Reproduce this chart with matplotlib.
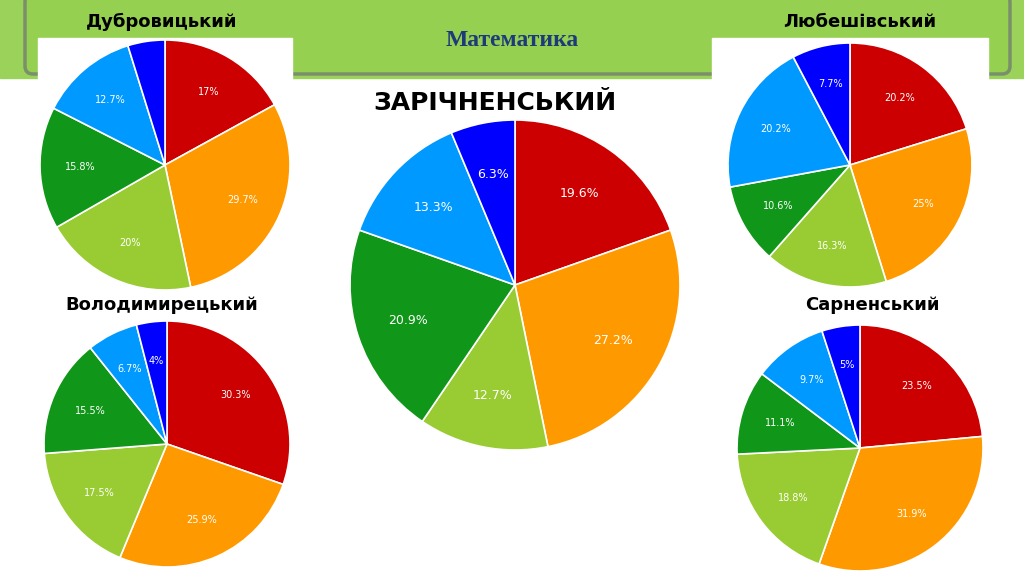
import math
import matplotlib.pyplot as plt
from matplotlib.patches import Rectangle, FancyBboxPatch

colors = ['#cc0000', '#ff9900', '#99cc33', '#109618', '#0099ff', '#0000ff']

dub = [17, 29.7, 20, 15.8, 12.7, 4.8]
dub_lbl = ['17%', '29.7%', '20%', '15.8%', '12.7%', '']
lub = [20.2, 25, 16.3, 10.6, 20.2, 7.7]
zar = [19.6, 27.2, 12.7, 20.9, 13.3, 6.3]
vol = [30.3, 25.9, 17.5, 15.5, 6.7, 4]
sar = [23.5, 31.9, 18.8, 11.1, 9.7, 5]

W, H = 1024, 574
fig = plt.figure(figsize=(W / 100, H / 100), dpi=100)
ax = fig.add_axes([0, 0, 1, 1])
ax.axis('off')

# banner
ax.add_patch(Rectangle((0, 0), W, H, color='white', zorder=0))
ax.add_patch(Rectangle((0, H - 78), W, 78, color='#9bd35a', zorder=0))
ax.add_patch(FancyBboxPatch((25, H - 74), 985, 80, boxstyle='round,pad=0,rounding_size=8',
                            fc='#96d050', ec='#7a8f6a', lw=2.5, zorder=1))
ax.add_patch(Rectangle((38, H - 290), 254, 252, color='white', zorder=2))
ax.add_patch(Rectangle((712, H - 290), 276, 252, color='white', zorder=2))
ax.text(512, H - 40, 'Математика', ha='center', va='center', fontsize=17,
        color='#1f3a7a', family='Liberation Serif', weight='bold', zorder=3)


def pie(vals, cx, cy, r, fs, labels=None):
    if labels is None:
        labels = [f'{v:g}%' for v in vals]
    ax.pie(vals, colors=colors, startangle=90, counterclock=False,
           center=(cx, H - cy), radius=r,
           wedgeprops=dict(edgecolor='white', linewidth=1.2, zorder=4))
    ang = 90
    for v, t in zip(vals, labels):
        mid = ang - v * 3.6 / 2
        ang -= v * 3.6
        x = cx + 0.68 * r * math.cos(math.radians(mid))
        y = H - cy + 0.68 * r * math.sin(math.radians(mid))
        ax.text(x, y, t, ha='center', va='center', fontsize=fs, color='white', zorder=5)


pie(dub, 165, 165, 125, 7, dub_lbl)
pie(lub, 850, 165, 122, 7)
pie(zar, 515, 285, 165, 9)
pie(vol, 167, 444, 123, 7)
pie(sar, 860, 448, 123, 7)
ax.set_xlim(0, W)
ax.set_ylim(0, H)
ax.set_aspect('auto')

ax.text(162, H - 22, 'Дубровицький', ha='center', va='center', fontsize=13, weight='bold', zorder=6)
ax.text(860, H - 22, 'Любешівський', ha='center', va='center', fontsize=13, weight='bold', zorder=6)
ax.text(495, H - 103, 'ЗАРІЧНЕНСЬКИЙ', ha='center', va='center', fontsize=18, weight='bold', zorder=6)
ax.text(162, H - 305, 'Володимирецький', ha='center', va='center', fontsize=13, weight='bold', zorder=6)
ax.text(872, H - 305, 'Сарненський', ha='center', va='center', fontsize=13, weight='bold', zorder=6)

fig.savefig('out.png', dpi=100)
